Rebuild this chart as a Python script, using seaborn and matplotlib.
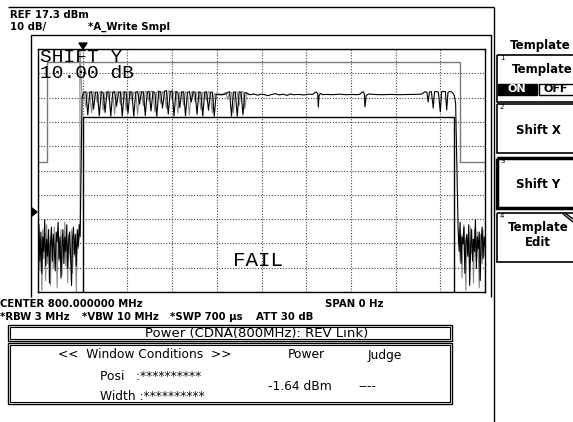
import numpy as np
import pandas as pd
import matplotlib
matplotlib.use("Agg")
import matplotlib.pyplot as plt
import seaborn as sns
from matplotlib.patches import Rectangle, Polygon

# ---------------- data (time in microseconds, level in dBm) ----------------
ref_level = 17.3
db_per_div = 10.0
sweep_us = 700.0

noise_left_black = [-62, -55, -70, -58, -75, -60, -66, -53, -72, -61, -68, -57, -79, -63, -56,
                    -70, -59, -65, -74, -58, -62, -54, -69, -60, -77, -64, -57, -71, -60, -66,
                    -55, -73, -62, -58, -68, -80, -61, -56, -67, -59, -72, -57, -64, -55, -60]
noise_left_gray = [-66, -58, -74, -61, -82, -57, -69, -63, -78, -55, -71, -60, -66, -80, -59,
                   -64, -73, -56, -68, -62, -81, -58, -70, -65, -57, -76, -61, -67, -54, -72,
                   -63, -79, -59, -66, -70, -57, -75, -62, -68, -60, -83, -58, -65, -61, -56]
comb_black = [-2.5, -0.4, -0.3, -9.8, -0.6, -0.2, -7.5, -0.5, -0.4, -10.2,
              -0.3, -0.6, -8.8, -0.4, -0.3, -10.4, -0.5, -0.2, -6.2, -0.6,
              -0.3, -10.3, -0.4, -0.5, -9.1, -0.3, -0.4, -10.4, -0.6, -0.2,
              -5.4, -0.4, -0.3, -10.1, -0.5, -0.1, -8.2, -0.3, -0.6, -10.4,
              -0.2, -0.3, -7.0, -0.1, 0.2, -9.5, -0.4, 0.1, -10.3, -0.2,
              -0.5, -6.8, -0.4, -0.3, -10.2, -0.6, -0.2, -4.5, -0.3, -0.5,
              -9.6, -0.4, -0.6, -10.3, -0.5, -0.3, -7.9, -0.6, -0.4, -10.4,
              -1.2, -1.5, -1.3, -1.6, -1.4, -1.2, -0.6, -0.3, -10.3, -0.5,
              -0.4, -10.4, -0.3, -0.5, -9.8, -0.6, -0.8, -1.4]
comb_gray = [-3.0, -0.8, -6.5, -0.4, -0.5, -9.0, -0.3, -0.7, -4.8, -0.6,
             -0.2, -7.9, -0.5, -0.4, -3.6, -0.3, -0.6, -9.5, -0.4, -0.3,
             -5.5, -0.5, -0.2, -8.0, -0.6, -0.3, -3.9, -0.4, -0.5, -9.8,
             -0.3, -0.4, -6.1, -0.2, -0.5, -4.2, 0.0, -0.3, -8.7, -0.5,
             0.1, -5.0, -0.2, -0.6, -7.2, 0.2, -0.3, -3.5, -0.4, -0.2,
             -9.2, -0.5, -0.4, -5.8, -0.3, -0.7, -9.9, -0.6, -0.2, -4.4,
             -0.5, -0.3, -7.6, -0.4, -0.6, -3.8, -0.3, -0.5, -9.0, -1.0,
             -1.4, -1.1, -1.7, -1.3, -1.0, -0.5, -3.5, -0.4, -0.6, -8.9,
             -0.3, -0.5, -6.0, -0.4, -0.2, -7.2, -0.9, -1.3]
flat_t = [333, 338, 344, 350, 355, 360, 366, 372, 378, 384, 390, 395, 400, 408, 416,
          424, 430, 434, 436, 438, 439, 440, 442, 446, 452, 462, 472, 482, 492, 500,
          504, 507, 509, 511, 512, 514, 518, 526, 538, 552, 566, 580, 592]
flat_v = [-1.5, -1.2, -1.7, -1.3, -1.5, -1.9, -1.4, -1.1, -1.6, -1.3, -1.8, -1.2, -1.5, -1.4, -1.6,
          -1.3, -1.4, -0.6, -0.4, -1.2, -6.6, -2.0, -1.0, -1.5, -1.4, -1.5, -1.3, -1.5, -1.4, -1.5,
          -1.3, -0.6, -0.3, -1.0, -6.5, -1.8, -1.2, -1.4, -1.5, -1.4, -1.5, -1.4, -1.3]
tail_t = [600, 603, 606, 609, 611, 613, 616, 619, 621, 624, 627, 630, 632, 635, 638,
          640, 642, 645, 648, 650, 652, 654]
tail_v = [-1.3, -0.8, -0.3, -0.5, -4.5, -0.4, -0.2, -7.0, -0.3, -0.2, -0.5, -8.6, -0.4, -0.1, -0.3,
          -7.8, -0.5, -0.2, -0.4, -1.0, -2.0, -5.0]
noise_right_black = [-58, -66, -54, -71, -60, -63, -56, -75, -62, -59, -68, -55, -80, -64, -57,
                     -70, -61, -66, -53, -73, -60, -65, -58, -78, -62, -56, -69, -60, -64]
noise_right_gray = [-63, -57, -70, -59, -77, -61, -55, -68, -82, -60, -65, -58, -72, -56, -67,
                    -61, -79, -57, -64, -70, -58, -66, -81, -59, -62, -71, -57, -68, -60]
gray_spike_t = [65.5]
gray_spike_v = [18.0]

upper_t = [0, 14, 14, 661, 661, 700]
upper_v = [-29.2, -29.2, 12.0, 12.0, -29.2, -29.2]
lower_t = [71, 71, 651.5, 651.5]
lower_v = [-82.7, -10.7, -10.7, -82.7]

# sampling grids of the stored sweeps
t_noise_left = np.arange(len(noise_left_black)) * 1.5
t_comb = 69 + 3 * np.arange(len(comb_black))
t_noise_right = 658 + 1.5 * np.arange(len(noise_right_black))

rows = []
def add(ts, vs, trace, seg):
    for a, b in zip(ts, vs):
        rows.append((float(a), float(b), trace, seg))

add(np.concatenate([t_noise_left, gray_spike_t, t_comb]),
    list(noise_left_gray) + gray_spike_v + comb_gray, "gray", "g1")
add(t_noise_right, noise_right_gray, "gray", "g2")
add(np.concatenate([t_noise_left, t_comb, flat_t, tail_t, t_noise_right]),
    noise_left_black + comb_black + flat_v + tail_v + noise_right_black, "black", "b1")
df = pd.DataFrame(rows, columns=["t", "v", "trace", "seg"])

tmpl = pd.DataFrame({"t": upper_t + lower_t, "v": upper_v + lower_v,
                     "kind": ["upper"] * len(upper_t) + ["lower"] * len(lower_t)})

# ---------------- figure ----------------
sns.set_theme(style="white")
plt.rcParams['font.family'] = ['DejaVu Sans']
plt.rcParams['text.color'] = 'black'
W, H = 573, 422
fig = plt.figure(figsize=(W / 100, H / 100), dpi=100)
fig.patch.set_facecolor("white")

ax = fig.add_axes([38 / W, 1 - 292 / H, 447 / W, 243 / H])
bottom = ref_level - 10 * db_per_div
ax.set_xlim(0, sweep_us)
ax.set_ylim(bottom, ref_level)
ax.set_xticks(np.linspace(0, sweep_us, 11))
ax.set_yticks(np.linspace(bottom, ref_level, 11))
ax.set_xticklabels([]); ax.set_yticklabels([])
ax.tick_params(length=0)
ax.grid(True, color="#444444", linestyle=(0, (1, 1.5)), linewidth=0.8)
for s in ax.spines.values():
    s.set_color("black"); s.set_linewidth(1.0)

sns.lineplot(data=tmpl, x="t", y="v", hue="kind", units="kind", estimator=None, sort=False,
             palette={"upper": "#7a7a7a", "lower": "#000000"}, linewidth=1.0, legend=False, ax=ax)
sns.lineplot(data=df, x="t", y="v", hue="trace", units="seg", estimator=None, sort=False,
             hue_order=["gray", "black"], palette={"gray": "#8a8a8a", "black": "#000000"},
             linewidth=0.8, legend=False, ax=ax)
ax.set_xlabel(""); ax.set_ylabel("")

# overlay in pixel coordinates
ov = fig.add_axes([0, 0, 1, 1])
ov.set_xlim(0, W); ov.set_ylim(H, 0); ov.axis("off")
ov.set_zorder(5); ov.patch.set_alpha(0)

def line(xs, ys, lw=1.0, c="black"):
    ov.plot(xs, ys, color=c, lw=lw, solid_capstyle="butt")

line([8, 494], [7, 7])
line([494, 494], [7, 422])
line([31, 31, 491, 491], [297, 35, 35, 297])

hdr = dict(fontsize=7.3, weight="bold", va="center", color="black")
ov.text(10, 15, "REF 17.3 dBm", **hdr)
ov.text(10, 27, "10 dB/", **hdr)
ov.text(88, 27, "*A_Write Smpl", **hdr)

big = dict(family="Liberation Mono", va="center", color="black")
ov.text(40, 57, "SHIFT Y", fontsize=14, **big)
ov.text(40, 74, "10.00 dB", fontsize=14, **big)
ov.text(233, 261, "FAIL", fontsize=15, **big)

# markers
ov.add_patch(Polygon([[79, 43], [87, 43], [83, 49]], closed=True, color="black"))
ov.add_patch(Polygon([[32, 208], [32, 216], [37, 212]], closed=True, color="black"))

ov.text(0, 304, "CENTER 800.000000 MHz", **hdr)
ov.text(325, 304, "SPAN 0 Hz", **hdr)
ov.text(0, 316.5, "*RBW 3 MHz", **hdr)
ov.text(82, 316.5, "*VBW 10 MHz", **hdr)
ov.text(170, 316.5, "*SWP 700 µs", **hdr)
ov.text(256, 316.5, "ATT 30 dB", **hdr)

for (x0, y0, x1, y1) in [(8, 325, 452, 341), (8, 343, 452, 404)]:
    ov.add_patch(Rectangle((x0, y0), x1 - x0, y1 - y0, fill=False, lw=1.0, ec="black"))
    ov.add_patch(Rectangle((x0 + 2, y0 + 2), x1 - x0 - 4, y1 - y0 - 4, fill=False, lw=0.8, ec="black"))

bf = dict(fontsize=8.8, va="center", color="black")
ov.text(257, 333, "Power (CDNA(800MHz): REV Link)", fontsize=9.5, ha="center", va="center", color="black")
ov.text(58, 355, "<<  Window Conditions  >>", **bf)
ov.text(288, 355, "Power", **bf)
ov.text(368, 355, "Judge", **bf)
ov.text(100, 377, "Posi   :**********", **bf)
ov.text(100, 396, "Width :**********", **bf)
ov.text(268, 387, "-1.64 dBm", **bf)
ov.text(358, 387, "----", **bf)

# right soft-key panel
kf = dict(fontsize=8.5, weight="bold", ha="center", va="center", color="black")
ov.text(540, 45, "Template", **kf)
boxes = [(55, 102, 1.2), (104, 153, 1.2), (158, 208, 2.5), (213, 262, 1.2)]
for (y0, y1, lw) in boxes:
    ov.add_patch(Rectangle((497, y0), 80, y1 - y0, fill=False, lw=lw, ec="black"))
for i, (y0, _, _) in enumerate(boxes):
    ov.text(500, y0 + 3, str(i + 1), fontsize=5, va="center", color="black")
ov.text(542, 69, "Template", **kf)
ov.add_patch(Rectangle((498, 84), 39, 11, color="black"))
ov.text(517, 89.5, "ON", fontsize=8, weight="bold", color="white", ha="center", va="center")
ov.add_patch(Rectangle((539, 84), 36, 11, fill=False, lw=1.0, ec="black"))
ov.text(556, 89.5, "OFF", fontsize=8, weight="bold", ha="center", va="center", color="black")
ov.text(538, 131, "Shift X", **kf)
ov.text(538, 185, "Shift Y", **kf)
ov.text(538, 228, "Template", **kf)
ov.text(538, 243, "Edit", **kf)
line([562, 573], [213, 222], lw=1.0)
line([565, 573], [213, 219], lw=1.0)

fig.savefig("out.png", dpi=100)
